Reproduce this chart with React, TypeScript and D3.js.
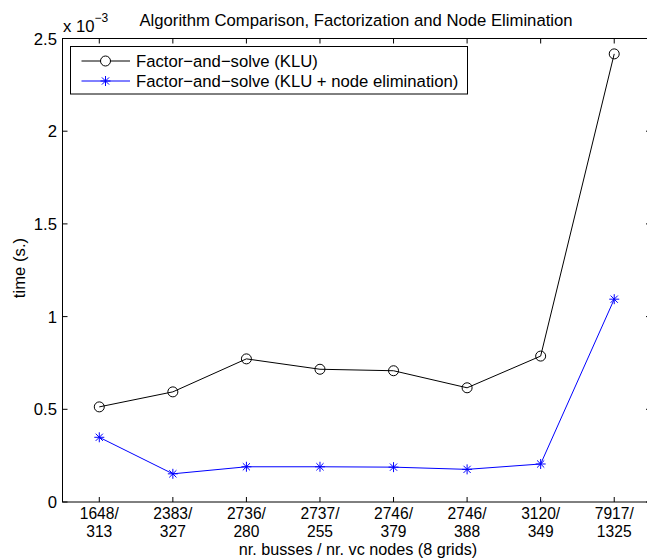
import React from "react";
import * as d3 from "d3";

const categoriesTop = ["1648/", "2383/", "2736/", "2737/", "2746/", "2746/", "3120/", "7917/"];
const categoriesBottom = ["313", "327", "280", "255", "379", "388", "349", "1325"];
const kluValues = [0.513, 0.594, 0.772, 0.716, 0.708, 0.616, 0.787, 2.417];
const nodeElimValues = [0.349, 0.152, 0.19, 0.19, 0.188, 0.176, 0.205, 1.094];
const yTicks = [0, 0.5, 1, 1.5, 2, 2.5];
const yTickLabels = ["0", "0.5", "1", "1.5", "2", "2.5"];
const seriesNames = ["Factor\u2212and\u2212solve (KLU)", "Factor\u2212and\u2212solve (KLU + node elimination)"];

const W = 647;
const H = 558;
const left = 62.5;
const right = 651;
const top = 38.5;
const bottom = 502;
const font = "'Liberation Sans', Arial, Helvetica, sans-serif";
const fs = 16.7;
const tfs = 15.6;

export default function App() {
  const idx = d3.range(1, categoriesTop.length + 1);
  const x = d3.scaleLinear().domain([0.5, 8.5]).range([left, right]);
  const y = d3.scaleLinear().domain([0, 2.5]).range([bottom, top]);
  const line = d3
    .line<number>()
    .x((_, i) => x(i + 1))
    .y((d) => y(d));
  const tl = 5;

  const star = (cx: number, cy: number, key: string | number, r = 5) => {
    const p: string[] = [];
    p.push(`M${cx - r},${cy}L${cx + r},${cy}`);
    p.push(`M${cx},${cy - r}L${cx},${cy + r}`);
    const d = r * 0.72;
    p.push(`M${cx - d},${cy - d}L${cx + d},${cy + d}`);
    p.push(`M${cx - d},${cy + d}L${cx + d},${cy - d}`);
    return <path key={key} d={p.join("")} stroke="#0000ff" strokeWidth={1} fill="none" />;
  };

  return (
    <svg
      width={W}
      height={H}
      style={{ position: "absolute", left: 0, top: 0, display: "block", background: "#fff" }}
      fontFamily={font}
    >
      <rect x={0} y={0} width={W} height={H} fill="#fff" />
      {/* axes box */}
      <rect x={left} y={top} width={right - left} height={bottom - top} fill="none" stroke="#000" strokeWidth={1} />
      {/* x ticks */}
      {idx.map((i) => (
        <g key={"xt" + i}>
          <line x1={x(i)} x2={x(i)} y1={bottom} y2={bottom - tl} stroke="#000" />
          <line x1={x(i)} x2={x(i)} y1={top} y2={top + tl} stroke="#000" />
          <text x={x(i)} y={519} textAnchor="middle" fontSize={tfs}>
            {categoriesTop[i - 1]}
          </text>
          <text x={x(i)} y={536.8} textAnchor="middle" fontSize={tfs}>
            {categoriesBottom[i - 1]}
          </text>
        </g>
      ))}
      {/* y ticks */}
      {yTicks.map((t, k) => (
        <g key={"yt" + k}>
          <line x1={left} x2={left + tl} y1={y(t)} y2={y(t)} stroke="#000" />
          <line x1={right} x2={right - tl} y1={y(t)} y2={y(t)} stroke="#000" />
          <text x={57} y={y(t) + 6} textAnchor="end" fontSize={fs}>
            {yTickLabels[k]}
          </text>
        </g>
      ))}
      {/* exponent */}
      <text x={63} y={31.5} fontSize={fs}>
        x 10
        <tspan dy={-10} fontSize={12}>
          {"\u22123"}
        </tspan>
      </text>
      {/* title */}
      <text x={356} y={25.5} textAnchor="middle" fontSize={fs}>
        Algorithm Comparison, Factorization and Node Elimination
      </text>
      {/* axis labels */}
      <text x={358} y={555} textAnchor="middle" fontSize={16.2}>
        nr. busses / nr. vc nodes (8 grids)
      </text>
      <text transform={`translate(25,268) rotate(-90)`} textAnchor="middle" fontSize={fs}>
        time (s.)
      </text>
      {/* series */}
      <path d={line(kluValues) || ""} fill="none" stroke="#000" strokeWidth={1} />
      {kluValues.map((v, i) => (
        <circle key={"c" + i} cx={x(i + 1)} cy={y(v)} r={5} fill="none" stroke="#000" strokeWidth={1} />
      ))}
      <path d={line(nodeElimValues) || ""} fill="none" stroke="#0000ff" strokeWidth={1} />
      {nodeElimValues.map((v, i) => star(x(i + 1), y(v), "s" + i))}
      {/* legend */}
      <rect x={70.5} y={46.5} width={397} height={47.5} fill="#fff" stroke="#000" strokeWidth={1} />
      <line x1={81.5} x2={130} y1={61} y2={61} stroke="#000" />
      <circle cx={105.5} cy={61} r={5} fill="#fff" stroke="#000" />
      <text x={136} y={67} fontSize={fs}>
        {seriesNames[0]}
      </text>
      <line x1={81.5} x2={130} y1={81} y2={81} stroke="#0000ff" />
      {star(105.5, 81, "legstar")}
      <text x={136} y={87} fontSize={fs}>
        {seriesNames[1]}
      </text>
    </svg>
  );
}
